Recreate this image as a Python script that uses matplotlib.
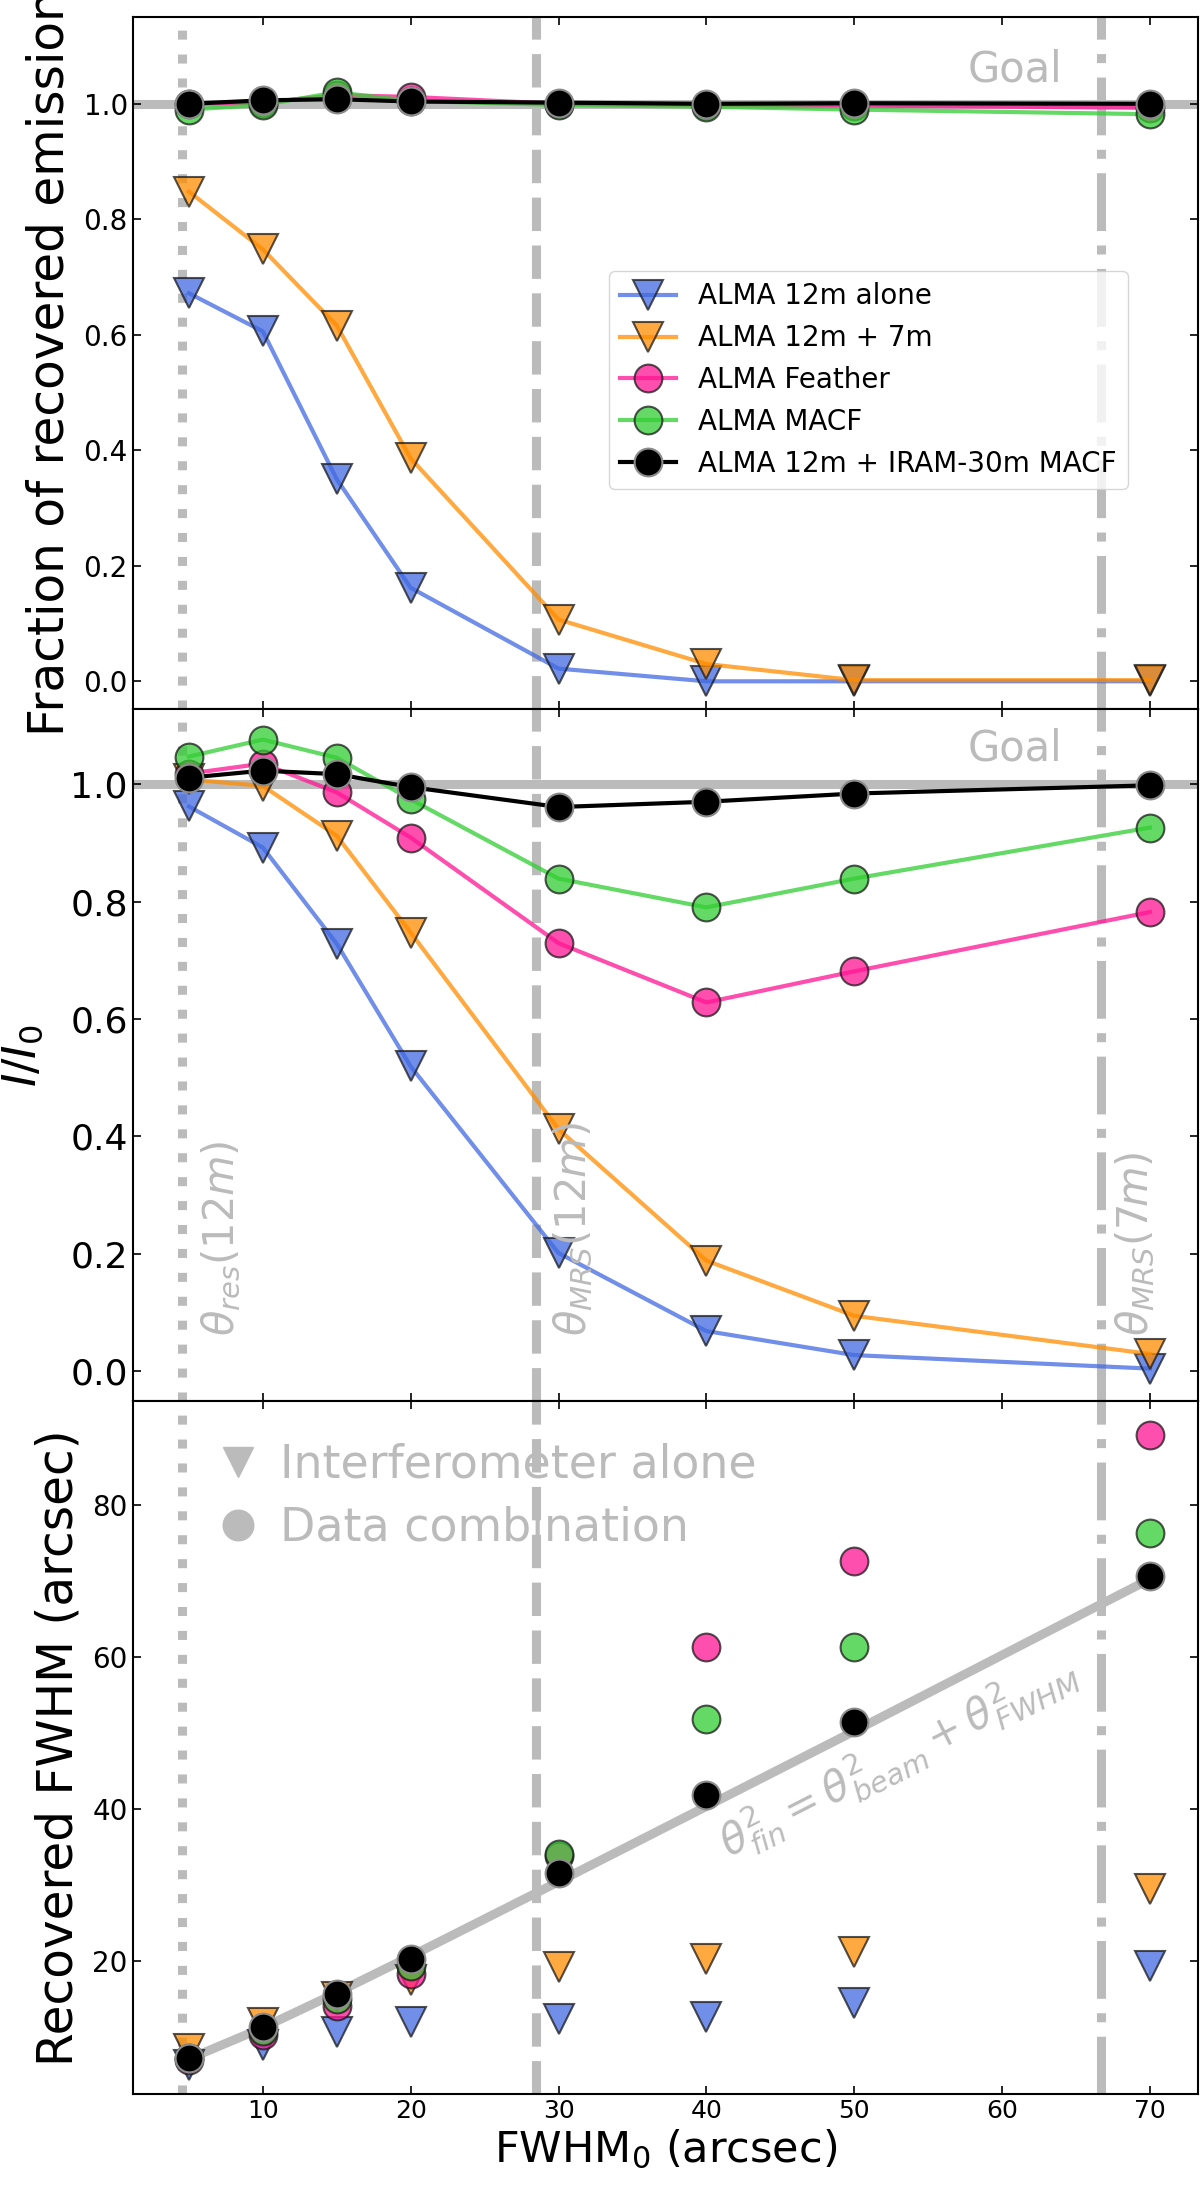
import matplotlib
matplotlib.use("Agg")
import matplotlib.pyplot as plt
from matplotlib.lines import Line2D

# input source sizes (arcsec)
fwhm0 = [5, 10, 15, 20, 30, 40, 50, 70]

# panel 1: fraction of recovered emission
frac_12m = [0.672, 0.606, 0.350, 0.162, 0.022, 0.0, 0.0, 0.0]
frac_12m7m = [0.848, 0.748, 0.616, 0.386, 0.107, 0.030, 0.002, 0.002]
frac_feather = [1.000, 1.002, 1.015, 1.012, 1.000, 0.998, 0.997, 0.993]
frac_macf = [0.990, 0.998, 1.020, 1.005, 0.998, 0.995, 0.990, 0.982]
frac_iram = [1.000, 1.006, 1.008, 1.004, 1.002, 1.000, 1.001, 1.000]

# panel 2: I/I0
ratio_12m = [0.962, 0.892, 0.728, 0.519, 0.201, 0.068, 0.027, 0.004]
ratio_12m7m = [1.008, 0.997, 0.912, 0.747, 0.412, 0.188, 0.094, 0.029]
ratio_feather = [1.018, 1.035, 0.986, 0.909, 0.729, 0.628, 0.681, 0.782]
ratio_macf = [1.047, 1.076, 1.045, 0.974, 0.839, 0.790, 0.839, 0.926]
ratio_iram = [1.011, 1.023, 1.017, 0.995, 0.961, 0.970, 0.984, 0.998]

# panel 3: recovered FWHM (arcsec)
rec_12m = [6.3, 8.9, 10.7, 12.0, 12.3, 12.6, 14.5, 19.3]
rec_12m7m = [8.4, 11.8, 15.2, 17.5, 19.2, 20.2, 21.2, 29.5]
rec_feather = [7.0, 10.3, 14.0, 18.3, 33.8, 61.2, 72.6, 89.2]
rec_macf = [7.2, 10.8, 15.0, 19.3, 34.1, 51.8, 61.2, 76.2]
rec_iram = [7.2, 11.3, 15.7, 20.3, 31.6, 41.8, 51.4, 70.6]
expected_fwhm = [7.1, 11.2, 15.8, 20.6, 30.4, 40.3, 50.2, 70.2]

theta_res_12m = 4.5
theta_mrs_12m = 28.5
theta_mrs_7m = 66.7

labels = ["ALMA 12m alone", "ALMA 12m + 7m", "ALMA Feather", "ALMA MACF",
          "ALMA 12m + IRAM-30m MACF"]
colors = ["royalblue", "darkorange", "deeppink", "limegreen", "k"]
markers = ["v", "v", "o", "o", "o"]
msizes = [21, 21, 20, 20, 20]

GREY = "#bbbbbb"

fig, axes = plt.subplots(3, 1, figsize=(12, 21.85), dpi=100, sharex=True)
fig.subplots_adjust(left=0.1106, right=0.9983, top=0.9924, bottom=0.0417, hspace=0)
ax1, ax2, ax3 = axes


def style_markers(i):
    if colors[i] == "k":
        return dict(color="k", mfc="k", mec="0.55", alpha=1.0)
    return dict(color=colors[i], mfc=colors[i], mec="0.1", alpha=0.75)


for ax in axes:
    ax.axvline(theta_res_12m, color=GREY, lw=6.5, ls=":", zorder=0)
    ax.axvline(theta_mrs_12m, color=GREY, lw=6.5, ls="--", zorder=0)
    ax.axvline(theta_mrs_7m, color=GREY, lw=6.5, ls="-.", zorder=0)
    ax.tick_params(direction="in", top=True, right=True, length=6, width=1.2)
    for sp in ax.spines.values():
        sp.set_linewidth(1.5)

# --- panel 1
ax1.axhline(1.0, color=GREY, lw=6.5, zorder=0)
for i, ys in enumerate([frac_12m, frac_12m7m, frac_feather, frac_macf, frac_iram]):
    ax1.plot(fwhm0, ys, marker=markers[i], ms=msizes[i], mew=1.5, lw=3,
             label=labels[i], zorder=2 + i, **style_markers(i))
ax1.text(64.1, 1.038, "Goal", color=GREY, fontsize=30, ha="right", va="baseline")
ax1.set_ylim(-0.048, 1.151)
ax1.set_yticks([0.0, 0.2, 0.4, 0.6, 0.8, 1.0])
ax1.tick_params(axis="y", labelsize=20)
ax1.set_ylabel("Fraction of recovered emission", fontsize=35)
ax1.yaxis.set_label_coords(-0.056, 0.5)
ax1.legend(loc="center right", bbox_to_anchor=(0.934, 0.475), borderaxespad=0,
           fontsize=20)

# --- panel 2
ax2.axhline(1.0, color=GREY, lw=6.5, zorder=0)
for i, ys in enumerate([ratio_12m, ratio_12m7m, ratio_feather, ratio_macf, ratio_iram]):
    ax2.plot(fwhm0, ys, marker=markers[i], ms=msizes[i], mew=1.5, lw=3,
             zorder=2 + i, **style_markers(i))
ax2.text(64.1, 1.041, "Goal", color=GREY, fontsize=30, ha="right", va="baseline")
ax2.text(7.2, 0.06, r"$\theta_{res}(12m)$", color=GREY, fontsize=30, rotation=90,
         ha="center", va="bottom")
ax2.text(31.0, 0.06, r"$\theta_{MRS}(12m)$", color=GREY, fontsize=30, rotation=90,
         ha="center", va="bottom")
ax2.text(69.0, 0.06, r"$\theta_{MRS}(7m)$", color=GREY, fontsize=30, rotation=90,
         ha="center", va="bottom")
ax2.set_ylim(-0.052, 1.128)
ax2.set_yticks([0.0, 0.2, 0.4, 0.6, 0.8, 1.0])
ax2.tick_params(axis="y", labelsize=26)
ax2.set_ylabel(r"$I/I_0$", fontsize=33)
ax2.yaxis.set_label_coords(-0.082, 0.5)

# --- panel 3
ax3.plot(fwhm0, expected_fwhm, color=GREY, lw=6.5, zorder=1)
for i, ys in enumerate([rec_12m, rec_12m7m, rec_feather, rec_macf, rec_iram]):
    ax3.plot(fwhm0, ys, ls="none", marker=markers[i], ms=msizes[i], mew=1.5,
             zorder=2 + i, **style_markers(i))
ax3.text(53.0, 46.9, r"$\theta^2_{fin} = \theta^2_{beam} + \theta^2_{FWHM}$",
         color=GREY, fontsize=30, rotation=27, rotation_mode="anchor",
         ha="center", va="center")
handles = [Line2D([], [], ls="none", marker="v", ms=22, color=GREY),
           Line2D([], [], ls="none", marker="o", ms=22, color=GREY)]
ax3.legend(handles, ["Interferometer alone", "Data combination"], loc="upper left",
           bbox_to_anchor=(0.0604, 0.967), borderaxespad=0, frameon=False,
           fontsize=33, labelcolor=GREY, handlelength=1.0, handletextpad=0.42,
           labelspacing=0.4)
ax3.set_ylim(2.5, 93.55)
ax3.set_yticks([20, 40, 60, 80])
ax3.tick_params(axis="y", labelsize=20)
ax3.tick_params(axis="x", labelsize=18)
ax3.set_ylabel("Recovered FWHM (arcsec)", fontsize=35)
ax3.yaxis.set_label_coords(-0.0476, 0.5)
ax3.set_xlim(1.2, 73.25)
ax3.set_xticks([10, 20, 30, 40, 50, 60, 70])
ax3.set_xlabel(r"FWHM$_0$ (arcsec)", fontsize=31)

fig.savefig("out.png", dpi=100)
